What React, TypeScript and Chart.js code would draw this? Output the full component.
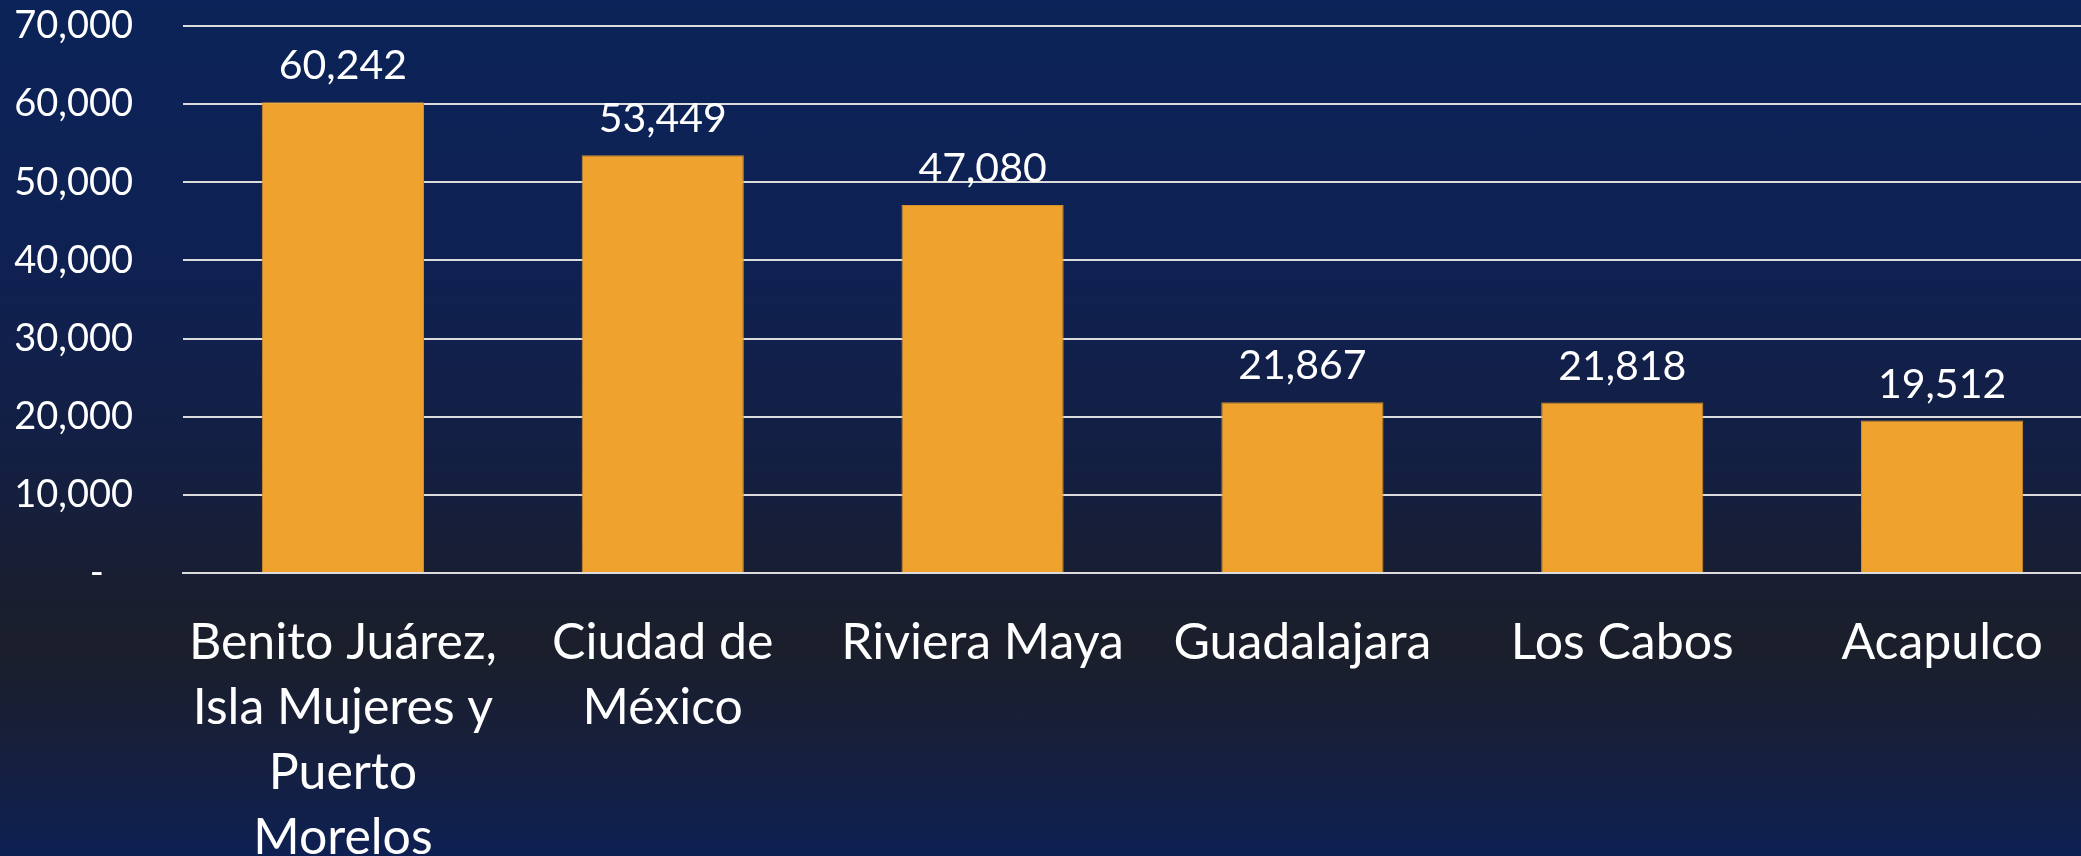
import React, { useEffect, useRef } from "react";
import { Chart, registerables } from "chart.js";

Chart.register(...registerables);

const categories: string[][] = [
  ["Benito Juárez,", "Isla Mujeres y", "Puerto", "Morelos"],
  ["Ciudad de", "México"],
  ["Riviera Maya"],
  ["Guadalajara"],
  ["Los Cabos"],
  ["Acapulco"],
];
const values: number[] = [60242, 53449, 47080, 21867, 21818, 19512];
const yMin = 0;
const yMax = 70000;
const yStep = 10000;

const fmt = (v: number) => (v === 0 ? "-   " : v.toLocaleString("en-US"));

const valueLabels = {
  id: "valueLabels",
  afterDatasetsDraw(chart: any) {
    const ctx = chart.ctx;
    const meta = chart.getDatasetMeta(0);
    ctx.save();
    ctx.fillStyle = "#ffffff";
    ctx.font = "41px Lato";
    ctx.textAlign = "center";
    ctx.textBaseline = "alphabetic";
    meta.data.forEach((el: any, i: number) => {
      ctx.fillText(values[i].toLocaleString("en-US"), el.x, el.y - 23);
    });
    ctx.restore();
  },
};

export default function App() {
  const ref = useRef<HTMLCanvasElement | null>(null);
  useEffect(() => {
    if (!ref.current) return;
    const chart = new Chart(ref.current, {
      type: "bar",
      data: {
        labels: categories,
        datasets: [
          {
            data: values,
            backgroundColor: "#EFA32E",
            borderColor: "#D08E2C",
            borderWidth: 1,
            categoryPercentage: 1,
            barPercentage: 0.507,
          },
        ],
      },
      plugins: [valueLabels],
      options: {
        responsive: false,
        animation: false,
        layout: { padding: { top: 26, left: 0, right: 0, bottom: 0 } },
        plugins: { legend: { display: false }, tooltip: { enabled: false } },
        scales: {
          x: {
            afterFit: (s: any) => {
              s.height = 283;
              s.paddingLeft = 0;
              s.paddingRight = 0;
            },
            grid: { display: false, drawTicks: false },
            border: { display: true, color: "#dcdcdc", width: 2 },
            ticks: {
              color: "#ffffff",
              padding: 37,
              maxRotation: 0,
              autoSkip: false,
              font: { family: "Lato", size: 50, lineHeight: 1.3 },
            },
          },
          y: {
            min: yMin,
            max: yMax,
            afterFit: (s: any) => {
              s.width = 183;
              s.paddingTop = 0;
              s.paddingBottom = 0;
            },
            grid: { color: "#dcdcdc", lineWidth: 2, drawTicks: false },
            border: { display: false },
            ticks: {
              stepSize: yStep,
              color: "#ffffff",
              padding: 50,
              font: { family: "Lato", size: 38 },
              callback: (v: any) => fmt(Number(v)),
            },
          },
        },
      },
    });
    return () => chart.destroy();
  }, []);
  return (
    <div
      style={{
        position: "fixed",
        left: 0,
        top: 0,
        width: 2081,
        height: 856,
        overflow: "hidden",
        background:
          "linear-gradient(to bottom, #0b2358 0%, #0f2153 30%, #141f41 55%, #191e31 68%, #1b1f2b 76%, #161f3d 88%, #0e2153 100%)",
      }}
    >
      <canvas ref={ref} width={2102} height={856} style={{ display: "block" }} />
    </div>
  );
}
